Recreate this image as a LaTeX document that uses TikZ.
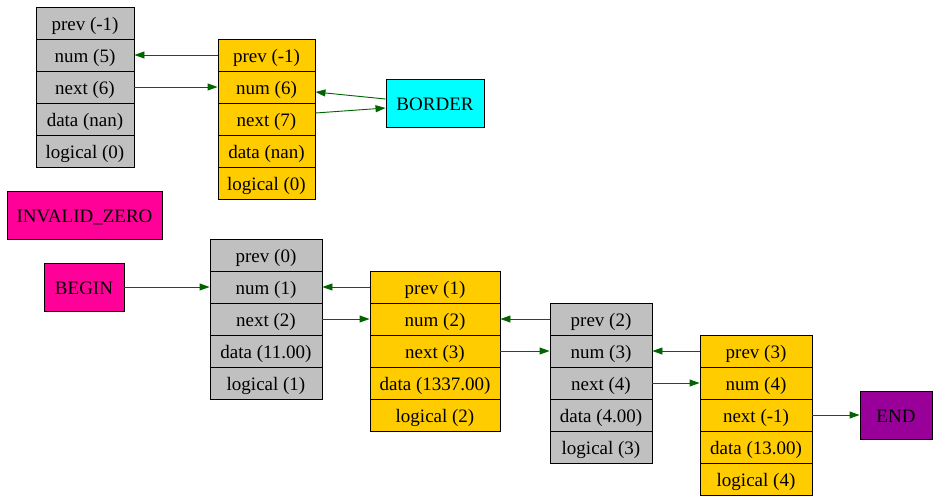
\documentclass[tikz,border=0pt]{standalone}
\usepackage{fontspec}
\setmainfont{Liberation Serif}
\usetikzlibrary{arrows.meta}
\definecolor{cellgray}{HTML}{C0C0C0}
\definecolor{cellgold}{HTML}{FFCC00}
\definecolor{markpink}{HTML}{FF0099}
\definecolor{markpurple}{HTML}{990099}
\definecolor{markcyan}{HTML}{00FFFF}
\definecolor{linkgreen}{HTML}{006400}
\begin{document}
\begin{tikzpicture}[x=1pt,y=-1pt,
  cell/.style={draw=black, line width=0.9pt, rectangle, inner sep=0pt,
    minimum height=32pt, text height=15.5pt, text depth=0pt,
    font=\fontsize{19pt}{22pt}\selectfont},
  graycell/.style={cell, fill=cellgray},
  goldcell/.style={cell, fill=cellgold},
  marker/.style={cell, minimum height=48pt},
  edge/.style={draw=linkgreen, line width=0.9pt,
    -{Triangle[length=10pt,width=7pt]}, color=linkgreen}]
\useasboundingbox (0,0) rectangle (939,501);
\fill[white] (0,0) rectangle (939,501);

% list element records: one cell per field
\foreach \t [count=\i] in {prev (-1),num (5),next (6),data (nan),logical (0)}
  \node[graycell, minimum width=98pt] (a\i) at (85, {7+32*\i-16}) {\t};
\foreach \t [count=\i] in {prev (-1),num (6),next (7),data (nan),logical (0)}
  \node[goldcell, minimum width=97pt] (b\i) at (266.5, {39+32*\i-16}) {\t};
\foreach \t [count=\i] in {prev (0),num (1),next (2),data (11.00),logical (1)}
  \node[graycell, minimum width=112pt] (c\i) at (266, {239+32*\i-16}) {\t};
\foreach \t [count=\i] in {prev (1),num (2),next (3),data (1337.00),logical (2)}
  \node[goldcell, minimum width=130pt] (d\i) at (435, {271+32*\i-16}) {\t};
\foreach \t [count=\i] in {prev (2),num (3),next (4),data (4.00),logical (3)}
  \node[graycell, minimum width=102pt] (e\i) at (601, {303+32*\i-16}) {\t};
\foreach \t [count=\i] in {prev (3),num (4),next (-1),data (13.00),logical (4)}
  \node[goldcell, minimum width=112pt] (f\i) at (756, {335+32*\i-16}) {\t};

% marker nodes
\node[marker, fill=markcyan, minimum width=98pt] (border) at (435,103) {BORDER};
\node[marker, fill=markpink, minimum width=155pt] (invalid) at (84.5,215) {INVALID\_ZERO};
\node[marker, fill=markpink, minimum width=80pt] (begin) at (84,287) {BEGIN};
\node[marker, fill=markpurple, minimum width=72pt] (end) at (896,415) {END};

% links
\draw[edge] (b1.west) -- (a2.east);
\draw[edge] (a3.east) -- (b2.west);
\draw[edge] ([yshift=4pt]border.west) -- ([yshift=-5pt]b2.east);
\draw[edge] ([yshift=6pt]b3.east) -- ([yshift=-5pt]border.west);
\draw[edge] (begin.east) -- (c2.west);
\draw[edge] (d1.west) -- (c2.east);
\draw[edge] (c3.east) -- (d2.west);
\draw[edge] (e1.west) -- (d2.east);
\draw[edge] (d3.east) -- (e2.west);
\draw[edge] (f1.west) -- (e2.east);
\draw[edge] (e3.east) -- (f2.west);
\draw[edge] (f3.east) -- (end.west);
\end{tikzpicture}
\end{document}
